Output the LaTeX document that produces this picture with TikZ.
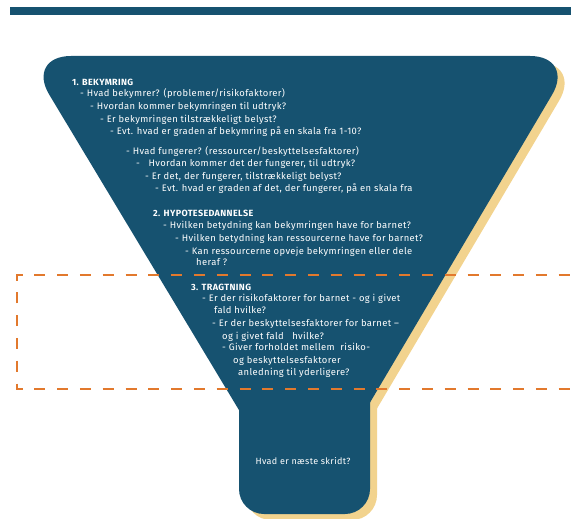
\documentclass[tikz,border=0pt]{standalone}
\usepackage{fontspec}
\setmainfont{Fira Sans}[LetterSpace=4]
\definecolor{funnelblue}{RGB}{22,82,112}
\definecolor{shadowyellow}{RGB}{242,211,142}
\definecolor{dashorange}{RGB}{226,121,45}
\begin{document}
\begin{tikzpicture}[x=1pt,y=-1pt,
  txt/.style={text=white, font=\fontsize{9.4}{10}\selectfont, inner sep=0pt, anchor=base west},
  head/.style={txt, font=\fontsize{9}{10}\selectfont\bfseries},
  trap/.style={rounded corners=45},
  neck/.style={rounded corners=25},
  framedash/.style={draw=dashorange, line width=2.8, dash pattern=on 11 off 11.8, dash phase=16.9}
]
\useasboundingbox (0,0) rectangle (571,519);
% top bar
\fill[funnelblue] (10,7) rectangle (571,15);
% shadow
\begin{scope}[shift={(7,6)}]
  \fill[shadowyellow, trap] (26,56) -- (575,56) -- (336,460) -- (269,460) -- cycle;
  \fill[shadowyellow, neck] (239,370) -- (239,514) -- (370,514) -- (370,370) -- cycle;
\end{scope}
% funnel
\fill[funnelblue, trap] (26,56) -- (575,56) -- (336,460) -- (269,460) -- cycle;
\fill[funnelblue, neck] (239,370) -- (239,514) -- (370,514) -- (370,370) -- cycle;
% section 1
\node[head] (h1) at (72,85.5) {1. BEKYMRING};
\node[txt] (l11) at (80,97) {- Hvad bekymrer? (problemer/risikofaktorer)};
\node[txt] (l12) at (90,109.5) {- Hvordan kommer bekymringen til udtryk?};
\node[txt] (l13) at (100,122) {- Er bekymringen tilstrækkeligt belyst?};
\node[txt] (l14) at (110,134.5) {- Evt. hvad er graden af bekymring på en skala fra 1-10?};
\node[txt] (l15) at (126,154.5) {- Hvad fungerer? (ressourcer/beskyttelsesfaktorer)};
\node[txt] (l16) at (136,166.5) {-~~~Hvordan kommer det der fungerer, til udtryk?};
\node[txt] (l17) at (145,179.5) {- Er det, der fungerer, tilstrækkeligt belyst?};
\node[txt] (l18) at (155,191) {- Evt. hvad er graden af det, der fungerer, på en skala fra};
% section 2
\node[head] (h2) at (153,216.5) {2. HYPOTESEDANNELSE};
\node[txt] (l21) at (163,228.5) {- Hvilken betydning kan bekymringen have for barnet?};
\node[txt] (l22) at (175,241.5) {- Hvilken betydning kan ressourcerne have for barnet?};
\node[txt] (l23) at (185,254.5) {- Kan ressourcerne opveje bekymringen eller dele};
\node[txt] (l24) at (196,265.5) {heraf ?};
% section 3
\node[head] (h3) at (191,290.5) {3. TRAGTNING};
\node[txt] (l31) at (202,301.5) {- Er der risikofaktorer for barnet - og i givet};
\node[txt] (l32) at (214,313.5) {fald hvilke?};
\node[txt] (l33) at (212,326.5) {- Er der beskyttelsesfaktorer for barnet --};
\node[txt] (l34) at (222,339.5) {og i givet fald~~~hvilke?};
\node[txt] (l35) at (222,350.5) {- Giver forholdet mellem~~risiko-};
\node[txt] (l36) at (233,363.5) {og beskyttelsesfaktorer};
\node[txt] (l37) at (238,375.5) {anledning til yderligere?};
% neck text
\node[text=white, font=\fontsize{9}{10}\selectfont, inner sep=0pt] (next) at (303,461) {Hvad er næste skridt?};
% dashed frame
\coordinate (fmid) at (17,332);
\coordinate (ftr) at (585,275);
\coordinate (fbr) at (585,389);
\draw[framedash] (fmid) -- (17,275) -- (ftr);
\draw[framedash] (fmid) -- (17,389) -- (fbr);
\end{tikzpicture}
\end{document}
